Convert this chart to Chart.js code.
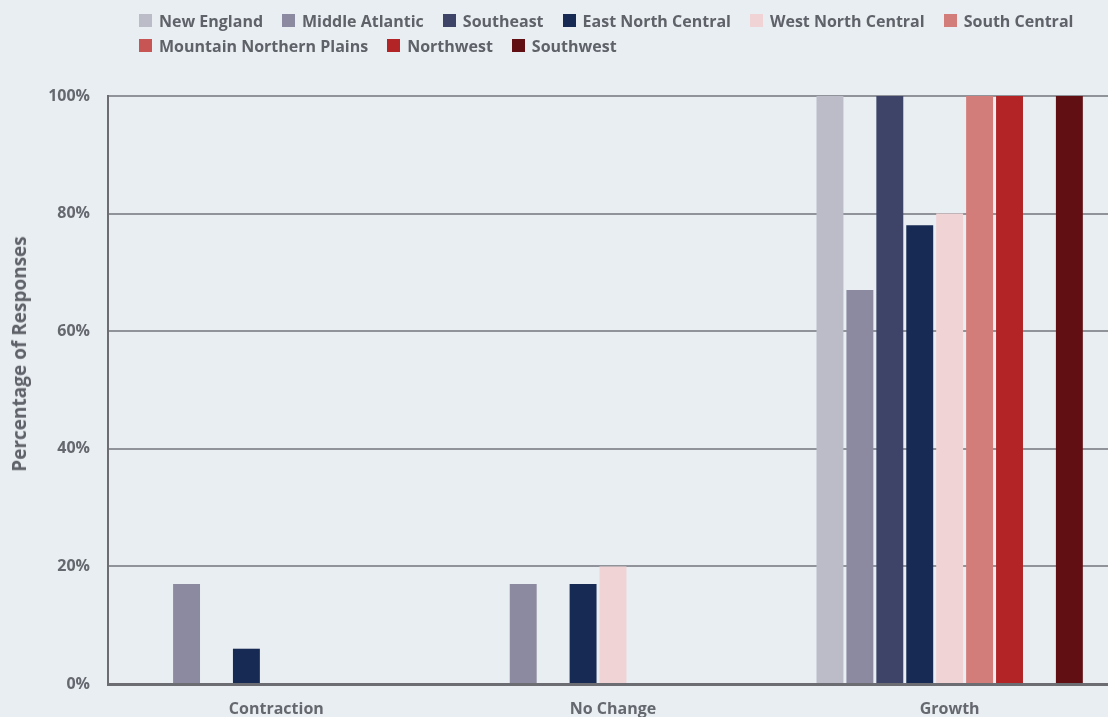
<!DOCTYPE html>
<html>
<head>
<meta charset="utf-8">
<title>Regional outlook</title>
<script src="https://cdn.jsdelivr.net/npm/chart.js@4.4.0/dist/chart.umd.min.js"></script>
<style>
  html, body { margin: 0; padding: 0; background: #e9eef3; overflow: hidden; width: 1108px; height: 717px; }
  #wrap { position: relative; width: 1120px; height: 740px; }
  #legend { position: absolute; left: 139px; top: 8px; width: 975px; display: flex; flex-wrap: wrap;
            font: bold 16px "Open Sans", sans-serif; color: #5f6268; }
  #legend .item { display: flex; align-items: center; height: 25px; margin-right: 19px; }
  #legend .box { width: 13px; height: 13px; margin-right: 7px; }
  #ytitle { position: absolute; left: 19px; top: 354px; transform: translate(-50%, -50%) rotate(-90deg);
            font: bold 19px "Open Sans", sans-serif; color: #5f6268; white-space: nowrap; }
</style>
</head>
<body>
<div id="wrap">
  <canvas id="chart"></canvas>
  <div id="legend"></div>
  <div id="ytitle">Percentage of Responses</div>
</div>
<script>
// survey answers, % of responses per region
const categories = ['Contraction', 'No Change', 'Growth'];
const regions = ['New England', 'Middle Atlantic', 'Southeast', 'East North Central', 'West North Central',
                 'South Central', 'Mountain Northern Plains', 'Northwest', 'Southwest'];
const colors = ['#bcbcc8', '#8c8aa0', '#3d4468', '#172a53', '#f0d3d5', '#d37d7b', '#c75553', '#b22426', '#620f14'];

const newEngland = [0, 0, 100];
const middleAtlantic = [17, 17, 67];
const southeast = [0, 0, 100];
const eastNorthCentral = [6, 17, 78];
const westNorthCentral = [0, 20, 80];
const southCentral = [0, 0, 100];
const mountainNorthernPlains = [0, 0, 0];
const northwest = [0, 0, 100];
const southwest = [0, 0, 100];

const yTicks = [0, 20, 40, 60, 80, 100];

const series = [newEngland, middleAtlantic, southeast, eastNorthCentral, westNorthCentral,
                southCentral, mountainNorthernPlains, northwest, southwest];
// Northwest bars sit ahead of Mountain Northern Plains within each group
const barOrder = [0, 1, 2, 3, 4, 5, 7, 6, 8];

const tickFont = { family: 'Open Sans', weight: 'bold', size: 16 };
const textColor = '#65686e';

const chart = new Chart(document.getElementById('chart'), {
    type: 'bar',
    data: {
        labels: categories,
        datasets: barOrder.map(function (i) {
            return {
                label: regions[i],
                data: series[i],
                backgroundColor: colors[i],
                categoryPercentage: 0.8,
                barPercentage: 0.9
            };
        })
    },
    options: {
        responsive: true,
        maintainAspectRatio: false,
        animation: false,
        layout: { padding: { top: 96, right: 2, left: 0, bottom: 0 } },
        plugins: {
            legend: { display: false },
            tooltip: { enabled: false }
        },
        scales: {
            x: {
                grid: { display: false },
                border: { color: '#6b6d72', width: 3 },
                ticks: { font: tickFont, color: textColor, padding: 8 },
                afterFit: function (s) { s.height = 56; }
            },
            y: {
                min: 0,
                max: 100,
                afterBuildTicks: function (s) { s.ticks = yTicks.map(function (v) { return { value: v }; }); },
                ticks: {
                    font: tickFont, color: textColor, padding: 18,
                    callback: function (v) { return v + '%'; }
                },
                grid: { color: '#90949a', lineWidth: 2, drawTicks: false },
                border: { color: '#6b6d72', width: 2 },
                afterFit: function (s) { s.width = 108; }
            }
        }
    }
});

// legend laid out in two left-aligned rows above the plot
const legendEl = document.getElementById('legend');
regions.forEach(function (name, i) {
    const item = document.createElement('div');
    item.className = 'item';
    const box = document.createElement('span');
    box.className = 'box';
    box.style.background = colors[i];
    item.appendChild(box);
    item.appendChild(document.createTextNode(name));
    legendEl.appendChild(item);
});
</script>
</body>
</html>
